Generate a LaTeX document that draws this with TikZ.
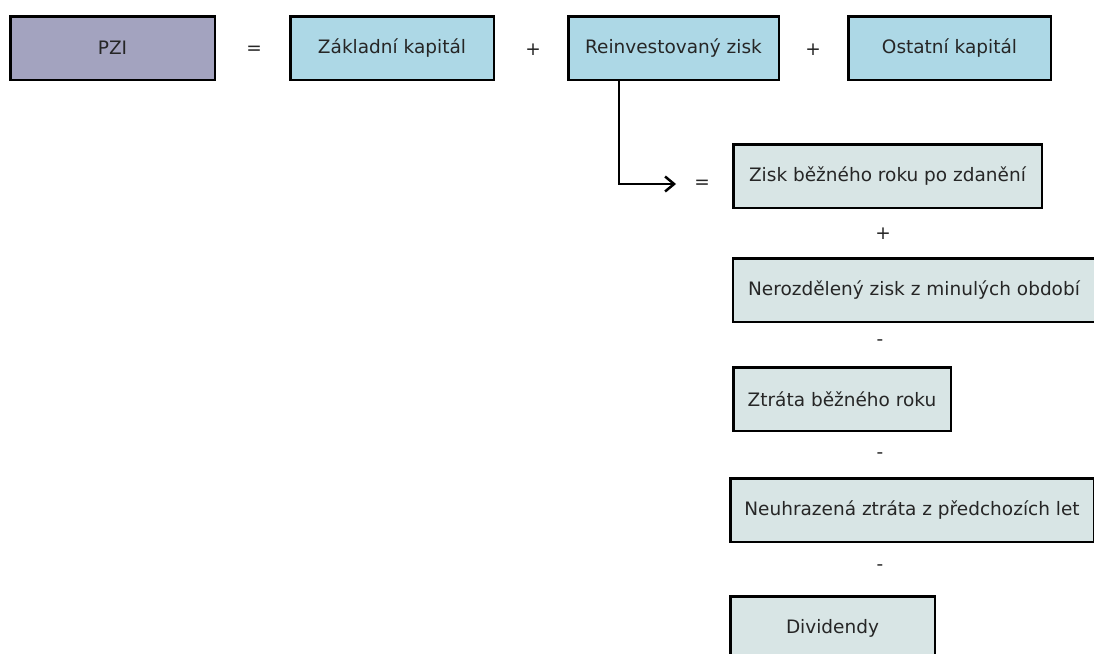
\documentclass[tikz,border=0pt]{standalone}
\usepackage{fontspec}
\setmainfont{DejaVu Sans}
\usetikzlibrary{arrows.meta}
\definecolor{pzifill}{HTML}{A3A3BF}
\definecolor{topfill}{HTML}{ADD8E6}
\definecolor{lowfill}{HTML}{D8E5E5}
\definecolor{txt}{HTML}{262626}
\tikzset{
  box/.style={draw=black, line width=2.5pt, minimum height=63.5pt, inner sep=0pt,
    text=txt, font=\fontsize{18.5}{21}\selectfont},
  pzibox/.style={box, fill=pzifill},
  topbox/.style={box, fill=topfill},
  lowbox/.style={box, fill=lowfill},
  op/.style={text=txt, font=\fontsize{18.5}{21}\selectfont, inner sep=2pt},
  link/.style={draw=black, line width=2pt, -{Straight Barb[length=9pt,width=15pt,line width=2.5pt]}}
}
\begin{document}
\begin{tikzpicture}[x=1pt,y=-1pt]
\useasboundingbox (0,0) rectangle (1094,653);
% top row
\node[pzibox, minimum width=204.5pt] (pzi) at (112.5,48) {PZI};
\node[op] (eq1) at (254,50) {=};
\node[topbox, minimum width=203.5pt] (zakl) at (392,48) {Základní kapitál};
\node[op] (pl1) at (533,50) {+};
\node[topbox, minimum width=210.5pt] (reinv) at (673.5,48) {Reinvestovaný zisk};
\node[op] (pl2) at (813,50) {+};
\node[topbox, minimum width=202.5pt] (ost) at (949.5,48) {Ostatní kapitál};
% breakdown column
\node[op] (eq2) at (702,184) {=};
\node[lowbox, minimum width=308.5pt] (zisk) at (887.5,176) {Zisk běžného roku po zdanění};
\node[op] (pl3) at (883,234) {+};
\node[lowbox, minimum width=362pt] (neroz) at (914,290) {Nerozdělený zisk z minulých období};
\node[op] (mi1) at (880,343) {-};
\node[lowbox, minimum width=217.5pt] (ztrata) at (842,399) {Ztráta běžného roku};
\node[op] (mi2) at (880,456) {-};
\node[lowbox, minimum width=363.5pt] (neuhr) at (912,510) {Neuhrazená ztráta z předchozích let};
\node[op] (mi3) at (880,568) {-};
\node[lowbox, minimum width=204.5pt] (divid) at (832.5,628) {Dividendy};
% connector
\coordinate (turn) at (619,184);
\coordinate (tip) at (676,184);
\draw[link] (reinv.south -| turn) |- (tip);
\end{tikzpicture}
\end{document}
